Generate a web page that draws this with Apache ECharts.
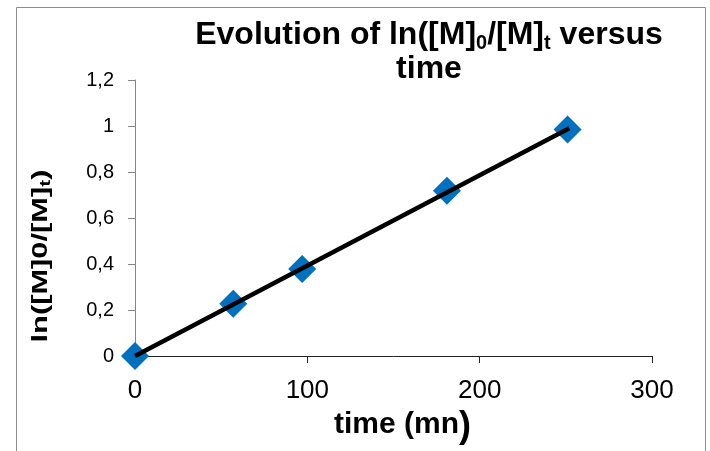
<!DOCTYPE html>
<html>
<head>
<meta charset="utf-8">
<script src="https://cdn.jsdelivr.net/npm/echarts@6/dist/echarts.min.js"></script>
<style>html,body{margin:0;padding:0;background:#fff;}#c{width:710px;height:451px;}</style>
</head>
<body>
<div id="c"></div>
<script>
// Data
var times = [0, 57, 97, 181, 251];
var lnRatio = [0, 0.227, 0.378, 0.719, 0.985];
var trendTimes = [0, 252];
var trendValues = [0, 0.99];
var xTicks = [0, 100, 200, 300];
var yTickLabels = ['0', '0,2', '0,4', '0,6', '0,8', '1', '1,2'];

var FONT = '"Liberation Sans", Arial, sans-serif';
var chart = echarts.init(document.getElementById('c'));

var points = times.map(function (t, i) { return [t, lnRatio[i]]; });
var trend = trendTimes.map(function (t, i) { return [t, trendValues[i]]; });

chart.setOption({
  animation: false,
  backgroundColor: '#fff',
  textStyle: { fontFamily: FONT },
  graphic: [
    {
      type: 'rect', silent: true, z: -10,
      shape: { x: 16.5, y: 7.5, width: 689, height: 460 },
      style: { fill: '#fff', stroke: '#8c8c8c', lineWidth: 1 }
    },
    {
      type: 'text', silent: true,
      x: 429, y: 18,
      style: {
        text: '{b|Evolution of ln([M]}{sub|0}{b|/[M]}{sub|t}{b| versus}\n{b|time}',
        align: 'center', verticalAlign: 'top',
        rich: {
          b: { fontFamily: FONT, fontSize: 32, fontWeight: 'bold', fill: '#000', lineHeight: 34 },
          sub: { fontFamily: FONT, fontSize: 20, fontWeight: 'bold', fill: '#000', lineHeight: 34, padding: [17, 0, 0, 0] }
        }
      }
    },
    {
      type: 'text', silent: true,
      x: 41, y: 256, rotation: Math.PI / 2, scaleX: 1.4,
      style: {
        text: '{a|ln([M]0/[M]}{s|t}{a|)}',
        align: 'center', verticalAlign: 'middle',
        rich: {
          a: { fontFamily: FONT, fontSize: 22, fontWeight: 'bold', fill: '#000', lineHeight: 24 },
          s: { fontFamily: FONT, fontSize: 15, fontWeight: 'bold', fill: '#000', lineHeight: 24, padding: [10, 0, 0, 0] }
        }
      }
    }
  ],
  grid: { left: 135, right: 58, top: 80, bottom: 95, containLabel: false },
  xAxis: {
    type: 'value', min: 0, max: 300, interval: 100,
    name: '{a|time (mn}{p|)}',
    nameLocation: 'middle', nameGap: 46,
    nameTextStyle: {
      padding: [0, 0, 0, 18],
      rich: {
        a: { fontFamily: FONT, fontSize: 30, fontWeight: 'bold', color: '#000' },
        p: { fontFamily: FONT, fontSize: 36, fontWeight: 'bold', color: '#000', padding: [4, 0, 0, 0] }
      }
    },
    axisLine: { show: true, onZero: false, lineStyle: { color: '#222', width: 1 } },
    axisTick: { show: true, inside: false, length: 7, lineStyle: { color: '#222' } },
    axisLabel: {
      fontSize: 26, color: '#000', fontFamily: FONT, margin: 22,
      formatter: function (v) { return String(xTicks[xTicks.indexOf(v)]); }
    },
    splitLine: { show: false }
  },
  yAxis: {
    type: 'value', min: 0, max: 1.2, interval: 0.2,
    axisLine: { show: true, lineStyle: { color: '#868686', width: 1 } },
    axisTick: { show: true, inside: false, length: 7, lineStyle: { color: '#868686' } },
    axisLabel: {
      fontSize: 20, color: '#000', fontFamily: FONT, margin: 21,
      formatter: function (v) { return yTickLabels[Math.round(v / 0.2)]; }
    },
    splitLine: { show: false }
  },
  series: [
    {
      type: 'scatter', data: points, symbol: 'diamond', symbolSize: 28,
      itemStyle: { color: '#0070C0', opacity: 1 }, z: 2
    },
    {
      type: 'line', data: trend, symbol: 'none', z: 3,
      lineStyle: { color: '#000', width: 4.5 }
    }
  ]
});
</script>
</body>
</html>
